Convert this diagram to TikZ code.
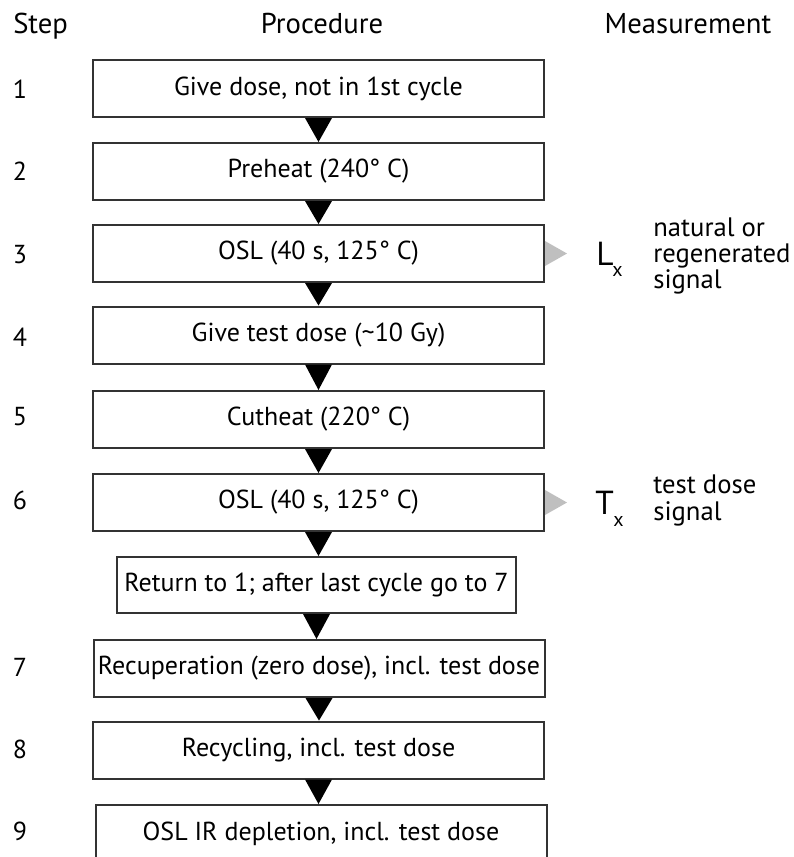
\documentclass[tikz,border=0pt]{standalone}
\usepackage{fontspec}
\setmainfont{PT Sans}
\usetikzlibrary{calc}
\begin{document}
\begin{tikzpicture}[x=0.75pt,y=-0.75pt,
  box/.style={draw=black!80, line width=1.5pt, fill=white, minimum width=338.25pt,
    minimum height=42.75pt, inner sep=0pt, align=center, font=\fontsize{19.5}{22}\selectfont},
  txt/.style={inner sep=0pt, font=\fontsize{19.5}{22}\selectfont},
  head/.style={inner sep=0pt, font=\fontsize{21.5}{24}\selectfont},
  meas/.style={inner sep=0pt, font=\fontsize{20}{21}\selectfont, anchor=base west},
  big/.style={inner sep=0pt, font=\fontsize{25}{25}\selectfont, anchor=base west},
  small/.style={inner sep=0pt, font=\fontsize{15}{15}\selectfont, anchor=base west},
  dtri/.style={fill=black},
  gtri/.style={fill=black!25}
]
\useasboundingbox (0,0) rectangle (793,857);
\begin{scope}
\clip (0,0) rectangle (793,857);
% headers
\node[head, anchor=base west] (hstep) at (13,33) {Step};
\node[head, anchor=base] (hproc) at (322,33) {Procedure};
\node[head, anchor=base] (hmeas) at (688,33) {Measurement};
% boxes
\node[box] (b1) at (318.5,88.5) {Give dose, not in 1st cycle};
\node[box] (b2) at (318.5,171.5) {Preheat (240° C)};
\node[box] (b3) at (318.5,253.5) {OSL (40 s, 125° C)};
\node[box] (b4) at (318.5,335) {Give test dose (\textasciitilde 10 Gy)};
\node[box] (b5) at (318.5,419.5) {Cutheat (220° C)};
\node[box] (b6) at (318.5,502.5) {OSL (40 s, 125° C)};
\node[box, minimum width=299.25pt, minimum height=42pt] (r) at (316.5,585) {Return to 1; after last cycle go to 7};
\node[box] (b7) at (319,668.5) {Recuperation (zero dose), incl. test dose};
\node[box] (b8) at (318.5,750) {Recycling, incl. test dose};
\node[box] (b9) at (321,833.5) {OSL IR depletion, incl. test dose};
% step numbers
\node[txt] (s1) at (20,89) {1};
\node[txt] (s2) at (20,171) {2};
\node[txt] (s3) at (20,255) {3};
\node[txt] (s4) at (20,337) {4};
\node[txt] (s5) at (20,417) {5};
\node[txt] (s6) at (20,500) {6};
\node[txt] (s7) at (20,667) {7};
\node[txt] (s8) at (20,749) {8};
\node[txt] (s9) at (20,831) {9};
% black arrows
\foreach \a/\b in {b1/b2,b2/b3,b3/b4,b4/b5,b5/b6,b6/r,r/b7,b7/b8,b8/b9}{
  \fill[dtri] ($(\a.south)+(-13.5,0)$) -- ($(\a.south)+(13.5,0)$) -- (\b.north -| \a.south) -- cycle;
}
% grey arrows and measurements
\fill[gtri] ($(b3.east)+(0,-12.5)$) -- ($(b3.east)+(0,12.5)$) -- ($(b3.east)+(22,0)$) -- cycle;
\fill[gtri] ($(b6.east)+(0,-12.5)$) -- ($(b6.east)+(0,12.5)$) -- ($(b6.east)+(22,0)$) -- cycle;
\node[big] (L) at (596,265) {L};
\node[small] (Lx) at (612,276) {x};
\node[meas] (L1) at (653,236) {natural or};
\node[meas] (L2) at (653,262) {regenerated};
\node[meas] (L3) at (653,288) {signal};
\node[big] (T) at (595,514) {T};
\node[small] (Tx) at (613,526) {x};
\node[meas] (T1) at (653,493) {test dose};
\node[meas] (T2) at (653,520) {signal};
\end{scope}
\end{tikzpicture}
\end{document}
